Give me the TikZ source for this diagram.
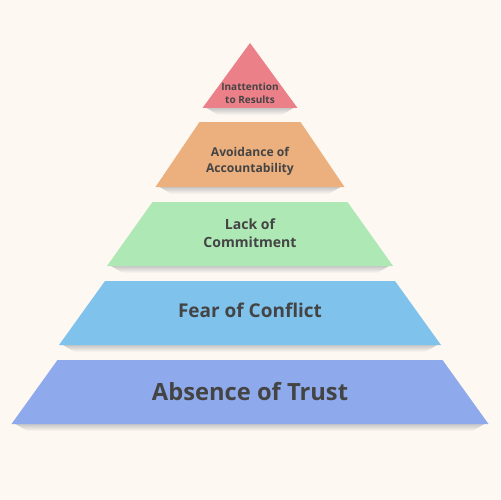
\documentclass[tikz,border=0pt]{standalone}
\usepackage{fontspec}
\setmainfont{Open Sans}
\usetikzlibrary{positioning, calc}
\usepackage{xcolor}

\definecolor{bgcream}{HTML}{FDF8F2}
\definecolor{txtgray}{HTML}{444444}
\definecolor{layerred}{HTML}{EC8089}
\definecolor{layerorange}{HTML}{ECB07E}
\definecolor{layergreen}{HTML}{AEE8B5}
\definecolor{layerblue}{HTML}{7FC2EC}
\definecolor{layerperi}{HTML}{8FAAEC}

\begin{document}
\begin{tikzpicture}[
  x=0.02cm, y=-0.02cm,
  layer/.style={draw=none},
  layershadow/.style={top color=black!22, bottom color=bgcream, draw=none},
  label/.style={text=txtgray, font=\bfseries, align=center, inner sep=0pt}
]
\useasboundingbox (0,0) rectangle (500,500);
\fill[bgcream] (0,0) rectangle (500,500);

% shadows under each layer
\foreach \yb/\hw in {108/47.5, 187/94.5, 266/143, 345/191, 424/238.5}
  \shade[layershadow] (250-\hw+4,\yb) -- (250+\hw-4,\yb)
    -- (250+\hw-16,\yb+7) -- (250-\hw+16,\yb+7) -- cycle;

% top: triangle
\fill[layer, layerred] (250,43) -- (297.5,108) -- (202.5,108) -- cycle;

% lower layers: trapezia
\foreach \yt/\ht/\yb/\hb/\col in {122/50.5/187/94.5/layerorange,
    202/97.5/266/143/layergreen, 281/145/345/191/layerblue,
    360/192.5/424/238.5/layerperi}
  \fill[layer, \col] (250-\ht,\yt) -- (250+\ht,\yt) -- (250+\hb,\yb)
    -- (250-\hb,\yb) -- cycle;

\node[label, font=\bfseries\fontsize{5.7}{7.2}\selectfont] (results) at (250,93)
  {Inattention\\to Results};
\node[label, font=\bfseries\fontsize{6.9}{9}\selectfont] (accountability) at (250,161)
  {Avoidance of\\Accountability};
\node[label, font=\bfseries\fontsize{8}{10}\selectfont] (commitment) at (250,233)
  {Lack of\\Commitment};
\node[label, font=\bfseries\fontsize{10.8}{13}\selectfont] (conflict) at (250,310)
  {Fear of Conflict};
\node[label, font=\bfseries\fontsize{13.5}{15}\selectfont] (trust) at (250,392)
  {Absence of Trust};
\end{tikzpicture}
\end{document}
